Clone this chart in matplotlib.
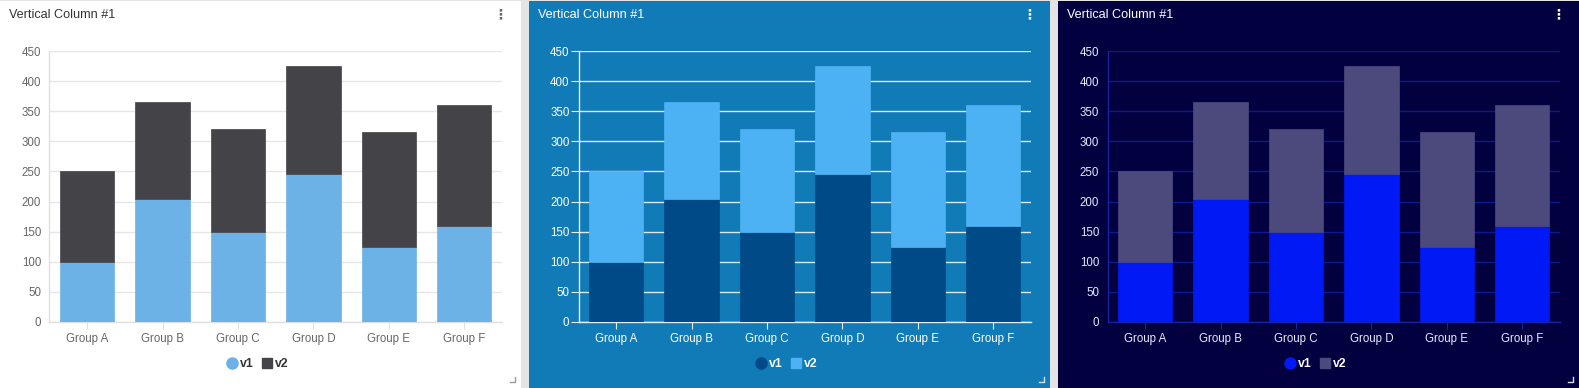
import matplotlib
matplotlib.use("Agg")
import matplotlib.pyplot as plt
from matplotlib.patches import Rectangle
from matplotlib.lines import Line2D

categories = ["Group A", "Group B", "Group C", "Group D", "Group E", "Group F"]
v1 = [100, 205, 150, 245, 125, 160]
v2 = [150, 160, 170, 180, 190, 200]
yticks = [0, 50, 100, 150, 200, 250, 300, 350, 400, 450]
title = "Vertical Column #1"

themes = [
    dict(bg="#ffffff", c1="#6cb2e6", c2="#434348", grid="#e6e6e6", axis="#e0e0e0",
         tick="#666666", title="#333333", legend="#333333", ytick_len=0, ypad=6,
         dots="#666666", corner="#999999"),
    dict(bg="#117bb7", c1="#004a87", c2="#4db2f3", grid="#dce9f3", axis="#e6eef5",
         tick="#ffffff", title="#ffffff", legend="#ffffff", ytick_len=6, ypad=0.5,
         dots="#ffffff", corner="#dddddd"),
    dict(bg="#030040", c1="#0019f5", c2="#4c4a7c", grid="#0d1a8c", axis="#1424a0",
         tick="#e8e8ff", title="#ffffff", legend="#ffffff", ytick_len=0, ypad=6,
         dots="#ffffff", corner="#dddddd"),
]

W, H = 1579, 388
fig = plt.figure(figsize=(W / 100, H / 100), dpi=100)
fig.patch.set_facecolor("#e4e4e4")

panel_x = [0, 529, 1058]
panel_w = 521

for px, th in zip(panel_x, themes):
    fig.patches.append(Rectangle((px / W, 0.5 / H), panel_w / W, (H - 1.5) / H,
                                 transform=fig.transFigure, facecolor=th["bg"],
                                 edgecolor="none", zorder=-10))
    # resize corner mark
    cx = px + panel_w - 6
    cy = 6
    fig.lines.append(Line2D([(cx - 5) / W, cx / W, cx / W],
                            [cy / H, cy / H, (cy + 5) / H],
                            transform=fig.transFigure, color=th["corner"], lw=1))
    ax_left = px + 49.5
    ax_right = px + 502
    ax_top = 51
    ax_bot = 322
    ax = fig.add_axes([ax_left / W, (H - ax_bot) / H, (ax_right - ax_left) / W,
                       (ax_bot - ax_top) / H])
    ax.set_facecolor("none")
    x = list(range(len(categories)))
    ax.bar(x, v1, width=0.72, color=th["c1"], edgecolor=th["c1"], linewidth=0.5, zorder=3)
    ax.bar(x, v2, bottom=v1, width=0.72, color=th["c2"], edgecolor=th["c2"],
           linewidth=0.5, zorder=3)
    ax.set_xlim(-0.5, len(categories) - 0.5)
    ax.set_ylim(0, 450)
    ax.set_yticks(yticks)
    ax.set_xticks(x)
    ax.set_xticklabels(categories)
    ax.grid(axis="y", color=th["grid"], linewidth=1, zorder=0)
    ax.set_axisbelow(True)
    for s in ["top", "right"]:
        ax.spines[s].set_visible(False)
    ax.spines["left"].set_color(th["axis"])
    ax.spines["bottom"].set_color(th["axis"])
    ax.spines["left"].set_linewidth(1)
    ax.spines["bottom"].set_linewidth(1)
    ax.tick_params(axis="y", length=th["ytick_len"], color=th["axis"], pad=th["ypad"],
                   labelsize=8, labelcolor=th["tick"])
    ax.tick_params(axis="x", length=5, color=th["axis"], pad=3,
                   labelsize=8, labelcolor=th["tick"])
    for lbl in ax.get_yticklabels() + ax.get_xticklabels():
        lbl.set_family("Liberation Sans")
        lbl.set_fontsize(8.3)

    fig.text((px + 9) / W, (H - 14.5) / H, title, color=th["title"], fontsize=9.1,
             family="Liberation Sans", va="center", ha="left")
    fig.text((px + 500) / W, (H - 14) / H, "\u22ee", color=th["dots"], fontsize=10,
             fontweight="bold", va="center", ha="center", family="DejaVu Sans")

    handles = [
        Line2D([], [], marker="o", linestyle="none", markersize=8,
               markerfacecolor=th["c1"], markeredgecolor=th["c1"]),
        Line2D([], [], marker="s", linestyle="none", markersize=6.5,
               markerfacecolor=th["c2"], markeredgecolor=th["c2"]),
    ]
    leg = fig.legend(handles, ["v1", "v2"], loc="center", ncol=2,
                     bbox_to_anchor=((px + 258) / W, (H - 364) / H),
                     frameon=False, handlelength=0.8, handletextpad=0.25,
                     columnspacing=0.7, borderpad=0,
                     prop=dict(family="Liberation Sans", weight="bold", size=8.8))
    for t in leg.get_texts():
        t.set_color(th["legend"])

fig.savefig("out.png", dpi=100, facecolor=fig.get_facecolor())
